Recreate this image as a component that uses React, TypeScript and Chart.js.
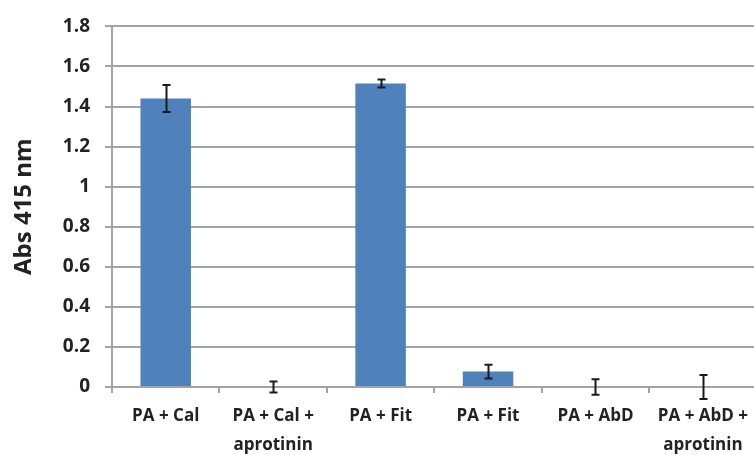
import React, { useEffect, useRef } from "react";
import { Chart, registerables } from "chart.js";

Chart.register(...registerables);

const categories: (string | string[])[] = [
  "PA + Cal",
  ["PA + Cal +", "aprotinin"],
  "PA + Fit",
  "PA + Fit",
  "PA + AbD",
  ["PA + AbD +", "aprotinin"],
];
const values = [1.44, 0, 1.515, 0.077, 0, 0];
const errors = [0.067, 0.027, 0.02, 0.034, 0.039, 0.06];
const yMin = 0;
const yMax = 1.8;
const yStep = 0.2;
const yTitle = "Abs 415 nm";

const FONT = "'Open Sans', Lato, sans-serif";
const GRID = "#a3a3a3";
const TEXT = "#222222";

const errorBarPlugin = {
  id: "errorBars",
  afterDatasetsDraw(chart: any) {
    const meta = chart.getDatasetMeta(0);
    const yScale = chart.scales.y;
    const ctx = chart.ctx;
    ctx.save();
    ctx.strokeStyle = "#1a1a1a";
    ctx.lineWidth = 2;
    meta.data.forEach((bar: any, i: number) => {
      const v = values[i];
      const e = errors[i];
      const x = Math.round(bar.x) + 0.5;
      const yt = yScale.getPixelForValue(v + e);
      const yb = yScale.getPixelForValue(v - e);
      const cap = 4;
      ctx.beginPath();
      ctx.moveTo(x, yt);
      ctx.lineTo(x, yb);
      ctx.moveTo(x - cap, yt);
      ctx.lineTo(x + cap, yt);
      ctx.moveTo(x - cap, yb);
      ctx.lineTo(x + cap, yb);
      ctx.stroke();
    });
    ctx.restore();
  },
};

export default function App() {
  const ref = useRef<HTMLCanvasElement>(null);
  useEffect(() => {
    const chart = new Chart(ref.current as HTMLCanvasElement, {
      type: "bar",
      data: {
        labels: categories,
        datasets: [
          {
            data: values,
            backgroundColor: "#4F81BD",
            borderWidth: 0,
            barPercentage: 0.47,
            categoryPercentage: 1,
          },
        ],
      },
      options: {
        animation: false,
        responsive: false,
        maintainAspectRatio: false,
        devicePixelRatio: 1,
        layout: { padding: { top: 17, left: 0, right: 0, bottom: 0 } },
        plugins: {
          legend: { display: false },
          tooltip: { enabled: false },
        },
        scales: {
          x: {
            grid: {
              display: true,
              drawOnChartArea: false,
              offset: true,
              tickLength: 6,
              color: GRID,
              lineWidth: 2,
            },
            border: { color: GRID, width: 2 },
            ticks: {
              font: { family: FONT, size: 17, weight: "bold", lineHeight: 1.7 },
              color: TEXT,
              padding: 9,
              maxRotation: 0,
              autoSkip: false,
            },
            afterFit: (s: any) => {
              s.height = 68;
            },
          },
          y: {
            min: yMin,
            max: yMax,
            ticks: {
              stepSize: yStep,
              font: { family: FONT, size: 19, weight: "bold" },
              color: TEXT,
              padding: 15,
              callback: (v: any) => String(Number(Number(v).toFixed(1))),
            },
            grid: { color: GRID, lineWidth: 2, tickLength: 7 },
            border: { color: GRID, width: 2 },
            title: {
              display: true,
              text: yTitle,
              color: TEXT,
              font: { family: FONT, size: 24, weight: "bold" },
              padding: { top: 10, bottom: 0 },
            },
            afterFit: (s: any) => {
              s.width = 112;
            },
          },
        },
      } as any,
      plugins: [errorBarPlugin],
    });
    return () => chart.destroy();
  }, []);
  return (
    <div
      style={{
        position: "fixed",
        left: 0,
        top: 0,
        width: 754,
        height: 455,
        overflow: "hidden",
        background: "#fff",
      }}
    >
      <canvas
        ref={ref}
        width={757}
        height={455}
        style={{ display: "block", width: 757, height: 455 }}
      />
    </div>
  );
}
